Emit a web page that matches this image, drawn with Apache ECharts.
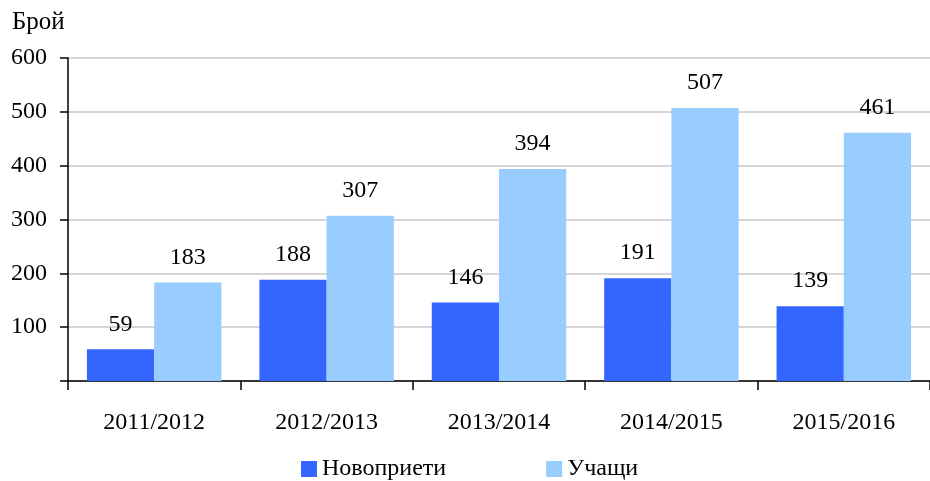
<!DOCTYPE html>
<html>
<head>
<meta charset="utf-8">
<script src="https://cdn.jsdelivr.net/npm/echarts@6/dist/echarts.min.js"></script>
<style>html,body{margin:0;padding:0;background:#fff}#c{width:930px;height:481px}</style>
</head>
<body>
<div id="c"></div>
<script>
const categories = ['2011/2012', '2012/2013', '2013/2014', '2014/2015', '2015/2016'];
const newlyAdmitted = [59, 188, 146, 191, 139];
const students = [183, 307, 394, 507, 461];
const seriesNames = ['Новоприети', 'Учащи'];
const yTicks = { min: 0, max: 600, interval: 100 };
const yTitle = 'Брой';

const FONT = '"Liberation Serif", "Times New Roman", serif';
const FS = 24;
const chart = echarts.init(document.getElementById('c'), null, { renderer: 'canvas' });
const labelStyle = { show: true, position: 'top', distance: 13, color: '#000', fontFamily: FONT, fontSize: FS };
chart.setOption({
  animation: false,
  backgroundColor: '#fff',
  textStyle: { fontFamily: FONT },
  graphic: [{
    type: 'text', left: 12, top: 10,
    style: { text: yTitle, fontFamily: FONT, fontSize: 25, fill: '#000' }
  }],
  legend: {
    left: 296, top: 452,
    icon: 'rect', itemWidth: 16, itemHeight: 16, itemGap: 100,
    textStyle: { fontFamily: FONT, fontSize: FS, color: '#000' },
    data: seriesNames
  },
  grid: { left: 68, right: -9, top: 58, bottom: 100, containLabel: false },
  xAxis: {
    type: 'category', data: categories, boundaryGap: true,
    axisLine: { lineStyle: { color: '#000', width: 1.5 } },
    axisTick: { show: true, length: 9, lineStyle: { color: '#000', width: 1.5 } },
    axisLabel: { color: '#000', fontFamily: FONT, fontSize: FS, margin: 30 }
  },
  yAxis: {
    type: 'value', min: yTicks.min, max: yTicks.max, interval: yTicks.interval,
    axisLine: { show: true, lineStyle: { color: '#000', width: 1.5 } },
    axisTick: { show: true, length: 8, lineStyle: { color: '#000', width: 1.5 } },
    axisLabel: { color: '#000', fontFamily: FONT, fontSize: FS, margin: 21,
      formatter: v => v === 0 ? '' : String(v) },
    splitLine: { show: true, lineStyle: { color: '#c8c8c8', width: 1.5 } }
  },
  series: [
    { name: seriesNames[0], type: 'bar', data: newlyAdmitted, barGap: '0%', barCategoryGap: '22%',
      itemStyle: { color: '#3366FF' }, label: labelStyle },
    { name: seriesNames[1], type: 'bar', data: students, barGap: '0%', barCategoryGap: '22%',
      itemStyle: { color: '#99CCFF' }, label: labelStyle }
  ]
});
</script>
</body>
</html>
